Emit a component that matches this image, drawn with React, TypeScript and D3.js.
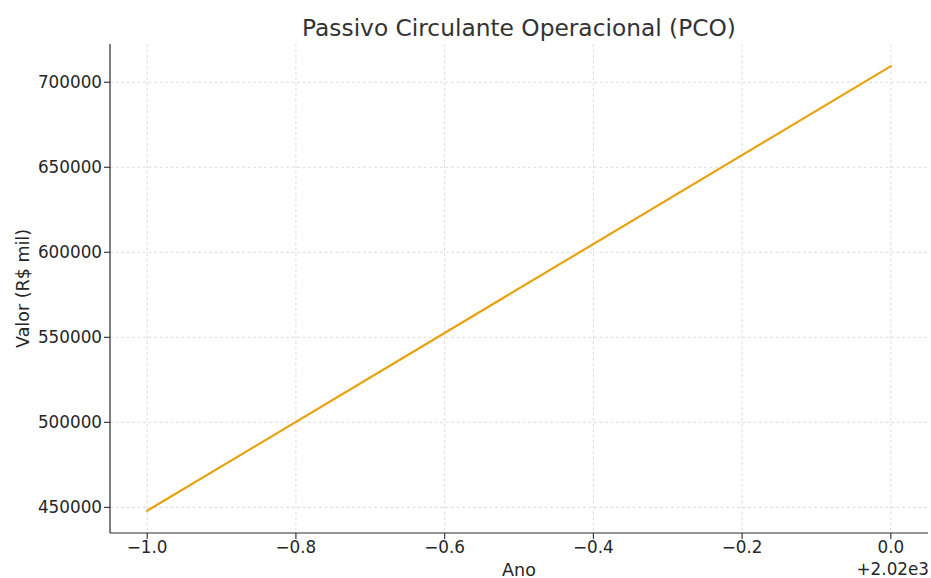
import React from "react";
import * as d3 from "d3";

const years = [2019, 2020];
const values = [448000, 709400];
const yTicks = [450000, 500000, 550000, 600000, 650000, 700000];
const xTicks = [2019, 2019.2, 2019.4, 2019.6, 2019.8, 2020];
const xOffset = 2020;
const title = "Passivo Circulante Operacional (PCO)";
const xLabel = "Ano";
const yLabel = "Valor (R$ mil)";
const offsetLabel = "+2.02e3";

const W = 931;
const H = 578;
const M = { left: 110, right: 928, top: 44, bottom: 533 };
const FONT = "DejaVu Sans, sans-serif";

export default function App() {
  const xMin = d3.min(years)!;
  const xMax = d3.max(years)!;
  const xPad = (xMax - xMin) * 0.05;
  const yMin = d3.min(values)!;
  const yMax = d3.max(values)!;
  const yPad = (yMax - yMin) * 0.05;

  const x = d3.scaleLinear().domain([xMin - xPad, xMax + xPad]).range([M.left, M.right]);
  const y = d3.scaleLinear().domain([yMin - yPad, yMax + yPad]).range([M.bottom, M.top]);

  const line = d3
    .line<number>()
    .x((_, i) => x(years[i]))
    .y((d) => y(d));

  const fmtX = (v: number) => {
    const s = (v - xOffset).toFixed(1);
    return s.replace("-", "\u2212");
  };

  const tickColor = "#2b2b2b";
  const textColor = "#262626";

  return (
    <svg
      width={W}
      height={H}
      style={{ position: "absolute", left: 0, top: 0, display: "block", background: "#fff" }}
      fontFamily={FONT}
    >
      {/* grid */}
      {xTicks.map((t) => (
        <line
          key={"gx" + t}
          x1={x(t)}
          x2={x(t)}
          y1={M.top}
          y2={M.bottom}
          stroke="#d4d4d4"
          strokeWidth={0.8}
          strokeDasharray="3,2.5"
        />
      ))}
      {yTicks.map((t) => (
        <line
          key={"gy" + t}
          x1={M.left}
          x2={M.right}
          y1={y(t)}
          y2={y(t)}
          stroke="#d4d4d4"
          strokeWidth={0.8}
          strokeDasharray="3,2.5"
        />
      ))}

      {/* data line */}
      <path d={line(values) || ""} fill="none" stroke="#E8A20E" strokeWidth={2.2} strokeLinecap="square" />

      {/* spines */}
      <line x1={M.left} x2={M.left} y1={M.top} y2={M.bottom} stroke={tickColor} strokeWidth={1.2} />
      <line x1={M.left} x2={M.right} y1={M.bottom} y2={M.bottom} stroke={tickColor} strokeWidth={1.2} />

      {/* y ticks */}
      {yTicks.map((t) => (
        <g key={"yt" + t}>
          <line x1={M.left - 6} x2={M.left} y1={y(t)} y2={y(t)} stroke={tickColor} strokeWidth={1.1} />
          <text
            x={102}
            y={y(t)}
            dy="0.36em"
            textAnchor="end"
            fontSize={16.8}
            fill={textColor}
          >
            {t}
          </text>
        </g>
      ))}

      {/* x ticks */}
      {xTicks.map((t) => (
        <g key={"xt" + t}>
          <line x1={x(t)} x2={x(t)} y1={M.bottom} y2={M.bottom + 6} stroke={tickColor} strokeWidth={1.1} />
          <text x={x(t)} y={552.5} textAnchor="middle" fontSize={16.8} fill={textColor}>
            {fmtX(t)}
          </text>
        </g>
      ))}

      {/* offset text */}
      <text x={M.right + 1} y={575} textAnchor="end" fontSize={16.8} fill={textColor}>
        {offsetLabel}
      </text>

      {/* axis labels */}
      <text x={(M.left + M.right) / 2} y={575.5} textAnchor="middle" fontSize={17.5} fill={textColor}>
        {xLabel}
      </text>
      <text
        transform={`translate(28.5, ${(M.top + M.bottom) / 2}) rotate(-90)`}
        textAnchor="middle"
        fontSize={17.5}
        fill={textColor}
      >
        {yLabel}
      </text>

      {/* title */}
      <text x={(M.left + M.right) / 2} y={36} textAnchor="middle" fontSize={23.3} fill="#333">
        {title}
      </text>
    </svg>
  );
}
